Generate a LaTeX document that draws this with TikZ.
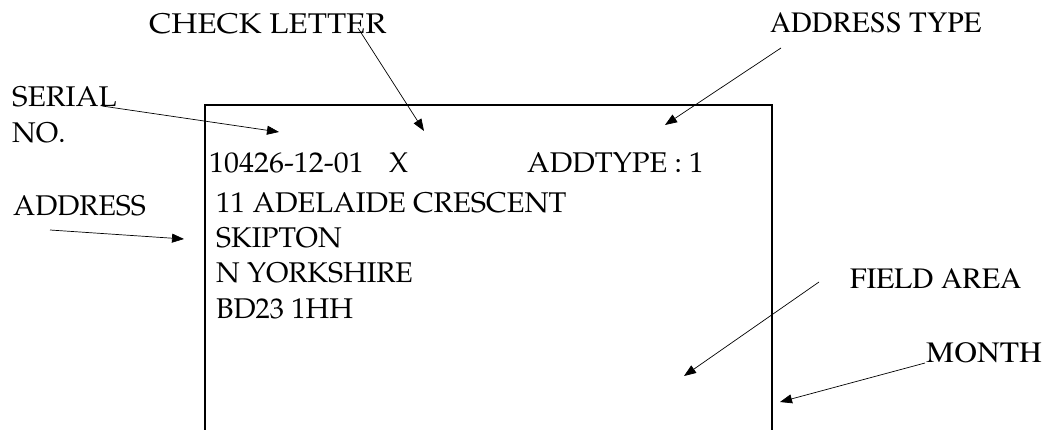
\documentclass[tikz,border=0pt]{standalone}
\usepackage[T1]{fontenc}
\usepackage{graphicx}
\renewcommand{\rmdefault}{ppl}
\usetikzlibrary{arrows.meta}
\begin{document}
\begin{tikzpicture}[x=1pt,y=-1pt,
  lbl/.style={anchor=base west,inner sep=0pt,font=\fontsize{28.5}{34}\selectfont},
  tlbl/.style={anchor=base west,inner sep=0pt,font=\fontfamily{ptm}\fontsize{29.5}{34}\selectfont},
  ptr/.style={line width=0.7pt,-{Triangle[length=12pt,width=9pt]}},
  frame/.style={line width=2pt}]
\useasboundingbox (0,0) rectangle (1044,430);
% card frame
\coordinate (bl) at (204.5,431);
\coordinate (tl) at (204.5,105);
\coordinate (tr) at (772,105);
\coordinate (br) at (772,431);
\draw[frame] (bl) -- (tl) -- (tr) -- (br);
% card contents
\node[lbl] (serialno) at (209,173) {\scalebox{1.05}[1]{10426-12-01}};
\node[lbl] (check) at (389,173) {X};
\node[lbl] (addtype) at (527,173) {\scalebox{1.02}[1]{ADDTYPE : 1}};
\node[lbl] (a1) at (216,213) {\scalebox{1.02}[1]{11 ADELAIDE CRESCENT}};
\node[lbl] (a2) at (216,248) {SKIPTON};
\node[lbl] (a3) at (216,283) {N YORKSHIRE};
\node[lbl] (a4) at (216,319) {BD23 1HH};
% labels
\node[lbl] (lcheck) at (149,34) {\scalebox{1.1}[1]{CHECK LETTER}};
\node[lbl] (lserial) at (12,107) {\scalebox{1.04}[1]{SERIAL}};
\node[lbl] (lno) at (12,143) {NO.};
\node[lbl] (laddr) at (13,216) {ADDRESS};
\node[tlbl] (ltype) at (770,33) {\scalebox{0.98}[1]{ADDRESS TYPE}};
\node[tlbl] (lfield) at (850,289) {FIELD AREA};
\node[tlbl] (lmonth) at (926,362) {\scalebox{1.07}[1]{MONTH}};
% arrow ends
\coordinate (s1) at (102,106); \coordinate (t1) at (279,132);
\coordinate (s2) at (358,28);  \coordinate (t2) at (424,131);
\coordinate (s3) at (50,230);  \coordinate (t3) at (184,239);
\coordinate (s4) at (781,48);  \coordinate (t4) at (665,125);
\coordinate (s5) at (819,282); \coordinate (t5) at (684,376);
\coordinate (s6) at (925,363); \coordinate (t6) at (780,402);
\draw[ptr] (s1) -- (t1);
\draw[ptr] (s2) -- (t2);
\draw[ptr] (s3) -- (t3);
\draw[ptr] (s4) -- (t4);
\draw[ptr] (s5) -- (t5);
\draw[ptr] (s6) -- (t6);
\end{tikzpicture}
\end{document}
